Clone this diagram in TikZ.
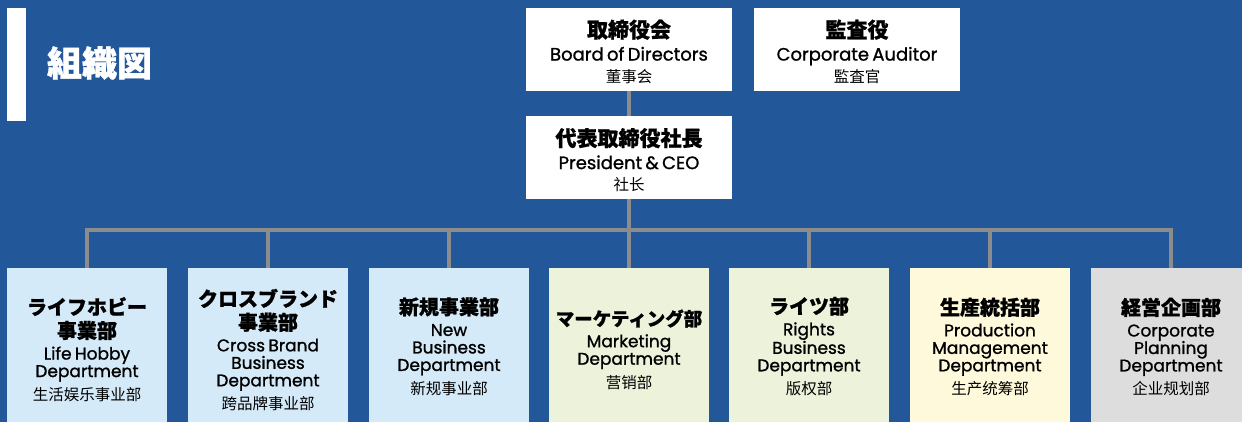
\documentclass[tikz,border=0pt]{standalone}
\usepackage{fontspec}
\newfontfamily\jpfont{Noto Sans CJK JP}[BoldFeatures={FakeBold=1.0}]
\newfontfamily\scfont{Noto Sans CJK SC}
\newfontfamily\enfont{Poppins}[FakeBold=1.1]
\definecolor{bgblue}{HTML}{22579A}
\definecolor{linegray}{HTML}{8C8C8C}
\definecolor{boxblue}{HTML}{D5EAF8}
\definecolor{boxgreen}{HTML}{EDF3DB}
\definecolor{boxyellow}{HTML}{FEF9DB}
\definecolor{boxgray}{HTML}{DDDDDD}
\newcommand\HJ[1]{{\fontsize{20}{23.5}\selectfont\jpfont\bfseries #1\par}}
\newcommand\HG{\vspace{4pt}}
\newcommand\EN[1]{{\fontsize{17}{17.5}\selectfont\enfont #1\par}}
\newcommand\CN[1]{{\fontsize{15.5}{23.5}\selectfont\scfont #1\par}}
\newcommand\TJ[1]{{\fontsize{21}{23}\selectfont\jpfont\bfseries #1\par}}
\newcommand\TE[1]{{\fontsize{18}{23}\selectfont\enfont #1\par}}
\newcommand\TC[1]{{\fontsize{15.5}{21.5}\selectfont\scfont #1\par}}
\tikzset{
  topbox/.style={fill=white, draw=none, minimum width=206pt, minimum height=83pt, inner sep=0pt},
  deptbox/.style={draw=none, minimum width=160pt, minimum height=170pt, inner sep=0pt, anchor=north},
  txt/.style={text width=158pt, align=center, inner sep=0pt, text=black},
  toptxt/.style={text width=204pt, align=center, inner sep=0pt, text=black},
  conn/.style={draw=linegray, line width=4pt, line join=miter},
}
\begin{document}
\begin{tikzpicture}[x=1pt,y=-1pt]
\clip (0,0) rectangle (1242,422);
\fill[bgblue] (0,0) rectangle (1242,422);
\fill[white] (7,8) rectangle (26,121);
\node[text=white, inner sep=0pt] (title) at (99.5,63) {\fontsize{35}{35}\selectfont\jpfont\bfseries 組織図};
% top boxes
\node[topbox] (board) at (629,49.5) {};
\node[toptxt] (boardt) at (629,51.5) {\TJ{取締役会}\TE{Board of Directors}\TC{董事会}};
\node[topbox] (aud) at (857,49.5) {};
\node[toptxt] (audt) at (857,51.5) {\TJ{監査役}\TE{Corporate Auditor}\TC{監査官}};
\node[topbox] (pres) at (629,157.5) {};
\node[toptxt] (prest) at (629,160) {\TJ{代表取締役社長}\TE{President \& CEO}\TC{社长}};
% department boxes
\node[deptbox, fill=boxblue] (d1) at (87,268) {};
\node[deptbox, fill=boxblue] (d2) at (268,268) {};
\node[deptbox, fill=boxblue] (d3) at (449,268) {};
\node[deptbox, fill=boxgreen] (d4) at (629,268) {};
\node[deptbox, fill=boxgreen] (d5) at (809,268) {};
\node[deptbox, fill=boxyellow] (d6) at (990,268) {};
\node[deptbox, fill=boxgray] (d7) at (1171,268) {};
\node[txt] (t1) at (87,349.5) {\HJ{ライフホビー}\HJ{事業部}\HG\EN{Life Hobby}\EN{Department}\CN{生活娱乐事业部}};
\node[txt] (t2) at (268,350) {\HJ{クロスブランド}\HJ{事業部}\HG\EN{Cross Brand}\EN{Business}\EN{Department}\CN{跨品牌事业部}};
\node[txt] (t3) at (449,346.5) {\HJ{新規事業部}\HG\EN{New}\EN{Business}\EN{Department}\CN{新规事业部}};
\node[txt] (t4) at (629,349.5) {{\fontsize{18.5}{23.5}\selectfont\jpfont\bfseries マーケティング部\par}\HG\EN{Marketing}\EN{Department}\CN{营销部}};
\node[txt] (t5) at (809,346.5) {\HJ{ライツ部}\HG\EN{Rights}\EN{Business}\EN{Department}\CN{版权部}};
\node[txt] (t6) at (990,347) {\HJ{生産統括部}\HG\EN{Production}\EN{Management}\EN{Department}\CN{生产统筹部}};
\node[txt] (t7) at (1171,347) {\HJ{経営企画部}\HG\EN{Corporate}\EN{Planning}\EN{Department}\CN{企业规划部}};
% connectors
\coordinate (bus) at (629,230);
\draw[conn] (board.south) -- (pres.north);
\draw[conn] (pres.south) -- (bus);
\foreach \d in {d1,d2,d3,d4,d5,d6,d7} {\draw[conn] (bus) -| (\d.north);}
\end{tikzpicture}
\end{document}
